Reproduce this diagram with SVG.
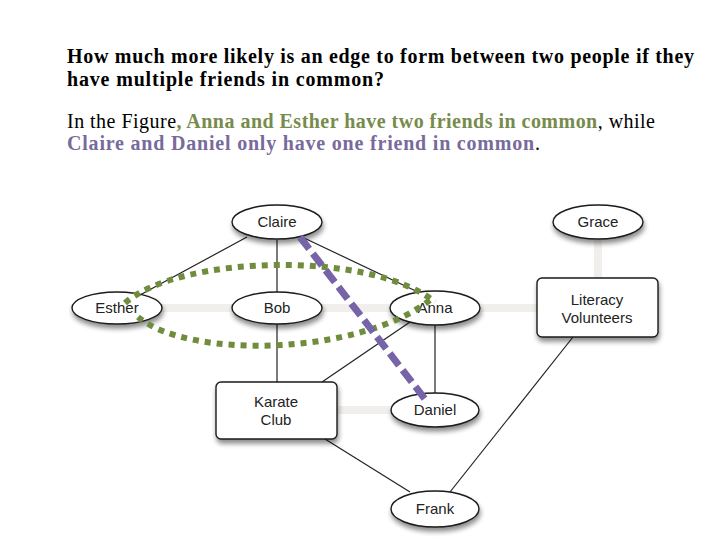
<svg xmlns="http://www.w3.org/2000/svg" width="720" height="540" viewBox="0 0 720 540">
<style>
.t{font-family:"Liberation Serif","Times New Roman",serif;font-size:20px;fill:#000}
.b{font-weight:bold}
.g{fill:#778b4c;font-weight:bold}
.p{fill:#786b9c;font-weight:bold}
.n{fill:#fff;stroke:#1a1a1a;stroke-width:1.4}
.lbl{font-family:"Liberation Sans",Arial,sans-serif;font-size:15px;fill:#222;text-anchor:middle}
.e{stroke:#222;stroke-width:1.2;fill:none}
.f{stroke:#f1efeb;stroke-width:8;fill:none}
.gd{stroke:#6f8d3d;stroke-width:6;stroke-dasharray:6 6;fill:none}
.pd{stroke:#7763a8;stroke-width:7;stroke-dasharray:15 6;fill:none}
</style>
<defs>
<filter id="sh" x="-30%" y="-30%" width="160%" height="180%">
<feGaussianBlur in="SourceAlpha" stdDeviation="2.5"/>
<feOffset dx="1" dy="4" result="o"/>
<feComponentTransfer><feFuncA type="linear" slope="0.45"/></feComponentTransfer>
<feMerge><feMergeNode/><feMergeNode in="SourceGraphic"/></feMerge>
</filter>
</defs>
<rect width="720" height="540" fill="#fff"/>
<g id="text">
<text class="t b" x="67" y="63" textLength="627">How much more likely is an edge to form between two people if they</text>
<text class="t b" x="67" y="86" textLength="317">have multiple friends in common?</text>
<text class="t" x="67" y="128" textLength="588">In the Figure<tspan class="g">, Anna and Esther have two friends in common</tspan>, while</text>
<text class="t" x="67" y="150" textLength="473"><tspan class="p">Claire and Daniel only have one friend in common</tspan>.</text>
</g>
<g id="connectors">
<line class="f" x1="162" y1="308" x2="232" y2="308"/>
<line class="f" x1="322" y1="308" x2="390" y2="308"/>
<line class="f" x1="480" y1="308" x2="537" y2="308"/>
<line class="f" x1="337" y1="410" x2="391" y2="410"/>
<line class="f" x1="598" y1="240" x2="598" y2="278"/>
<line class="e" x1="247" y1="237" x2="140" y2="295"/>
<line class="e" x1="277" y1="240" x2="277" y2="292"/>
<line class="e" x1="302" y1="237" x2="420" y2="293"/>
<line class="e" x1="277" y1="324" x2="277" y2="382"/>
<line class="e" x1="410" y1="322" x2="322" y2="382"/>
<line class="e" x1="435" y1="325" x2="435" y2="393"/>
<line class="e" x1="325" y1="439" x2="410" y2="492"/>
<line class="e" x1="573" y1="337" x2="450" y2="492"/>
</g>
<g id="claire"><ellipse class="n" filter="url(#sh)" cx="277" cy="222" rx="45" ry="17"/><text class="lbl" x="277" y="227">Claire</text></g>
<g id="grace"><ellipse class="n" filter="url(#sh)" cx="598" cy="222" rx="45" ry="17"/><text class="lbl" x="598" y="227">Grace</text></g>
<g id="esther"><ellipse class="n" filter="url(#sh)" cx="117" cy="308" rx="45" ry="16"/><text class="lbl" x="117" y="313">Esther</text></g>
<g id="bob"><ellipse class="n" filter="url(#sh)" cx="277" cy="308" rx="45" ry="16"/><text class="lbl" x="277" y="313">Bob</text></g>
<g id="anna"><ellipse class="n" filter="url(#sh)" cx="435" cy="308" rx="45" ry="17"/><text class="lbl" x="435" y="313">Anna</text></g>
<g id="literacy"><rect class="n" filter="url(#sh)" x="537" y="278" width="121" height="59" rx="5"/><text class="lbl" x="597" y="305">Literacy</text><text class="lbl" x="597" y="323">Volunteers</text></g>
<g id="karate"><rect class="n" filter="url(#sh)" x="216" y="382" width="121" height="57" rx="5"/><text class="lbl" x="276" y="407">Karate</text><text class="lbl" x="276" y="425">Club</text></g>
<g id="daniel"><ellipse class="n" filter="url(#sh)" cx="435" cy="410" rx="44" ry="17"/><text class="lbl" x="435" y="415">Daniel</text></g>
<g id="frank"><ellipse class="n" filter="url(#sh)" cx="435" cy="509" rx="44" ry="18"/><text class="lbl" x="435" y="514">Frank</text></g>
<g id="highlights">
<path class="gd" d="M125,303 C180,255 370,250 435,302"/>
<path class="gd" d="M138,317 C190,360 360,355 430,300"/>
<line class="pd" x1="300" y1="237" x2="428" y2="403"/>
</g>
</svg>
